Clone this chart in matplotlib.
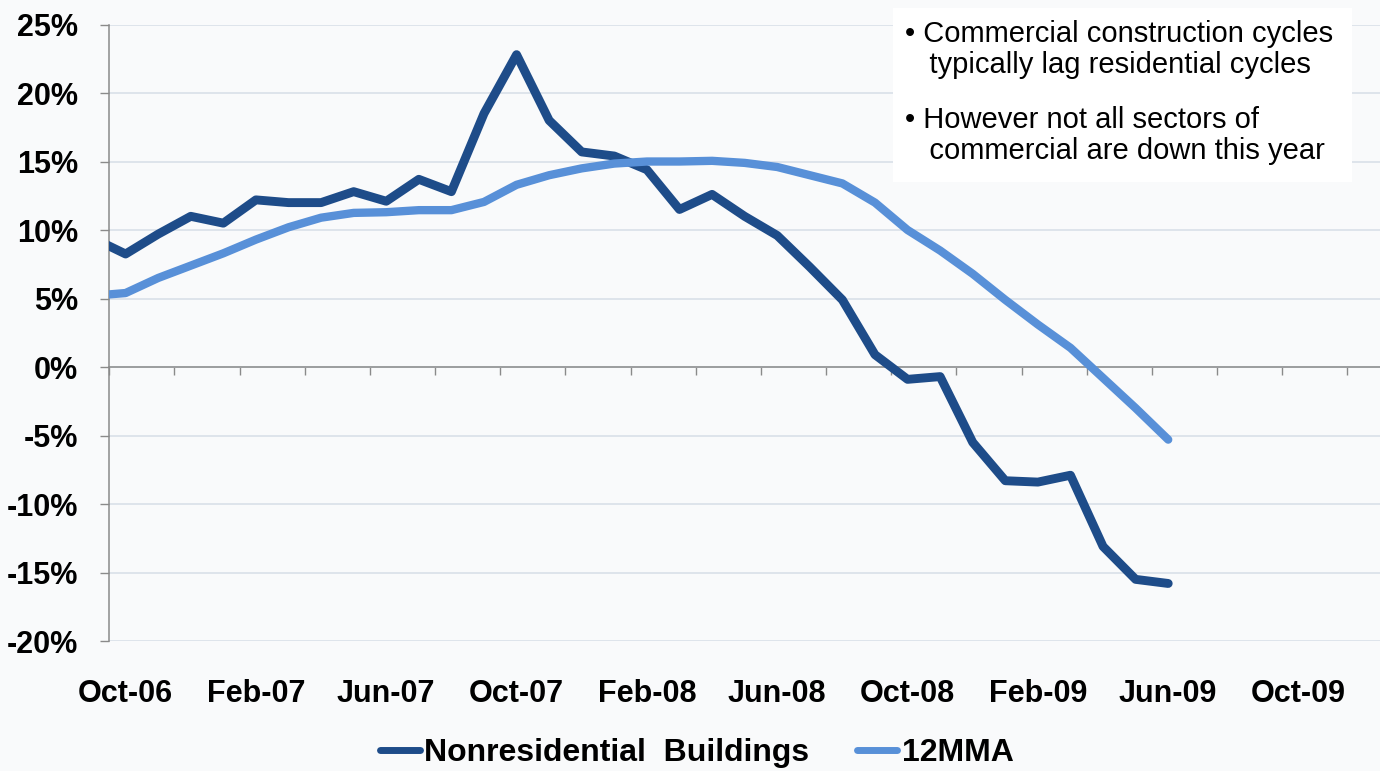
import numpy as np
import matplotlib
matplotlib.use("Agg")
import matplotlib.pyplot as plt

# Monthly y/y growth, nonresidential building construction
months = ["Sep-06", "Oct-06", "Nov-06", "Dec-06", "Jan-07", "Feb-07", "Mar-07", "Apr-07",
          "May-07", "Jun-07", "Jul-07", "Aug-07", "Sep-07", "Oct-07", "Nov-07", "Dec-07",
          "Jan-08", "Feb-08", "Mar-08", "Apr-08", "May-08", "Jun-08", "Jul-08", "Aug-08",
          "Sep-08", "Oct-08", "Nov-08", "Dec-08", "Jan-09", "Feb-09", "Mar-09", "Apr-09",
          "May-09", "Jun-09"]
nonres = [9.4, 8.25, 9.7, 11.0, 10.5, 12.2, 12.0, 12.0, 12.8, 12.1, 13.7, 12.8, 18.5,
          22.8, 18.0, 15.7, 15.4, 14.4, 11.5, 12.6, 11.0, 9.6, 7.3, 4.9, 0.9, -0.9,
          -0.7, -5.5, -8.3, -8.4, -7.9, -13.1, -15.5, -15.8]
mma12 = [5.2, 5.4, 6.5, 7.4, 8.3, 9.3, 10.2, 10.9, 11.25, 11.3, 11.45, 11.45, 12.05,
         13.3, 14.0, 14.5, 14.85, 15.0, 15.0, 15.05, 14.9, 14.6, 14.0, 13.4, 12.0, 10.0,
         8.5, 6.8, 4.9, 3.1, 1.4, -0.8, -3.0, -5.3]

x_labels = ["Oct-06", "Feb-07", "Jun-07", "Oct-07", "Feb-08", "Jun-08",
            "Oct-08", "Feb-09", "Jun-09", "Oct-09"]
y_ticks = [25, 20, 15, 10, 5, 0, -5, -10, -15, -20]
notes = ["• Commercial construction cycles\n   typically lag residential cycles",
         "• However not all sectors of\n   commercial are down this year"]

DARK = "#1e4c89"
LIGHT = "#5890d8"
BG = "#f9fafb"
GRID = "#dce2ea"
AXIS = "#8a8a8a"

plt.rcParams["font.family"] = ["Liberation Sans", "DejaVu Sans"]

x = np.arange(len(months)) - 1   # Oct-06 sits at 0

fig = plt.figure(figsize=(13.8, 7.71), dpi=100, facecolor=BG)
ax = fig.add_axes([0.0792, 0.1686, 0.9208, 0.7996])
ax.set_facecolor(BG)

ax.plot(x, nonres, color=DARK, lw=6.4, solid_capstyle="round", solid_joinstyle="round",
        label="Nonresidential  Buildings", zorder=3)
ax.plot(x, mma12, color=LIGHT, lw=6.0, solid_capstyle="round", solid_joinstyle="round",
        label="12MMA", zorder=3)

ax.set_xlim(-0.5, 38.5)
ax.set_ylim(-20, 25)

# y axis: gridlines every 5%, labels in bold
ax.set_yticks(y_ticks, [f"{v}%" for v in y_ticks])
ax.yaxis.grid(True, color=GRID, lw=1.3)
ax.set_axisbelow(True)
ax.tick_params(axis="y", direction="out", length=6.5, width=1, color=AXIS,
               pad=16, labelsize=22)
for t in ax.get_yticklabels():
    t.set_fontweight("bold")

# x axis sits on the zero line, ticks every two months, no labels there
ax.spines["bottom"].set_position(("data", 0))
for s in ["top", "right"]:
    ax.spines[s].set_visible(False)
for s in ["left", "bottom"]:
    ax.spines[s].set_color(AXIS)
    ax.spines[s].set_linewidth(1.1)
ax.set_xticks(np.arange(-0.5, 38.6, 2))
ax.tick_params(axis="x", direction="out", length=6, width=1, color=AXIS, labelbottom=False)

# month labels every four months along the bottom of the plot
sec = ax.secondary_xaxis(0)
sec.set_xticks(np.arange(0, 4 * len(x_labels), 4), x_labels)
sec.tick_params(length=0, pad=27, labelsize=22)
sec.spines["bottom"].set_visible(False)
for t in sec.get_xticklabels():
    t.set_fontweight("bold")

# commentary box, top right
fig.patches.append(plt.Rectangle((893 / 1380, 1 - 182 / 771), 459 / 1380, 174 / 771,
                                 transform=fig.transFigure, facecolor="white",
                                 edgecolor="none", zorder=5))
fig.text(905 / 1380, 1 - 20 / 771, notes[0], fontsize=21, va="top", ha="left",
         linespacing=1.15, zorder=6)
fig.text(905 / 1380, 1 - 106 / 771, notes[1], fontsize=21, va="top", ha="left",
         linespacing=1.15, zorder=6)

leg = fig.legend(loc="lower center", bbox_to_anchor=(0.505, -0.033), ncol=2, frameon=False,
                 handlelength=1.25, handletextpad=0.15, columnspacing=1.5,
                 prop={"size": 23, "weight": "bold"})
for line in leg.get_lines():
    line.set_linewidth(5)

fig.savefig("out.png", dpi=100, facecolor=BG)
